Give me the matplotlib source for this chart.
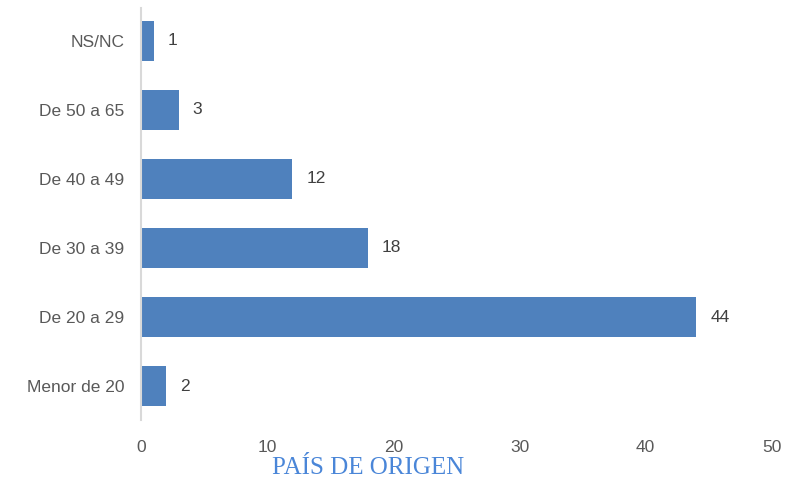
import matplotlib
matplotlib.use("Agg")
import matplotlib.pyplot as plt

categories = ["Menor de 20", "De 20 a 29", "De 30 a 39", "De 40 a 49", "De 50 a 65", "NS/NC"]
values = [2, 44, 18, 12, 3, 1]
xticks = [0, 10, 20, 30, 40, 50]
title = "PAÍS DE ORIGEN"

plt.rcParams['font.family'] = ['Liberation Sans', 'DejaVu Sans']
fig = plt.figure(figsize=(7.86, 4.79), dpi=100)
ax = fig.add_axes([0.1794, 0.123, 0.8026, 0.860])
ypos = list(range(len(categories)))
ax.barh(ypos, values, height=0.58, color="#4f81bd", zorder=2)
for y, v in zip(ypos, values):
    ax.annotate(str(v), xy=(v, y), xytext=(14, 0), textcoords="offset pixels",
                va="center", ha="left", fontsize=12.5, color="#404040")
ax.set_xlim(0, 50)
ax.set_ylim(-0.49, 5.47)
ax.set_yticks(ypos)
ax.set_yticklabels(categories, fontsize=12.5, color="#595959")
ax.set_xticks(xticks)
ax.set_xticklabels([str(t) for t in xticks], fontsize=12.5, color="#595959")
ax.tick_params(axis="both", length=0)
ax.tick_params(axis="y", pad=12)
ax.tick_params(axis="x", pad=14)
for s in ["top", "right", "bottom"]:
    ax.spines[s].set_visible(False)
ax.spines["left"].set_color("#d9d9d9")
ax.spines["left"].set_linewidth(1.5)
fig.text(0.468, 0.022, title, ha="center", va="center", fontsize=18,
         family=["Liberation Serif", "DejaVu Serif"], color="#4a86d8")
fig.savefig("out.png", dpi=100, facecolor="white")
